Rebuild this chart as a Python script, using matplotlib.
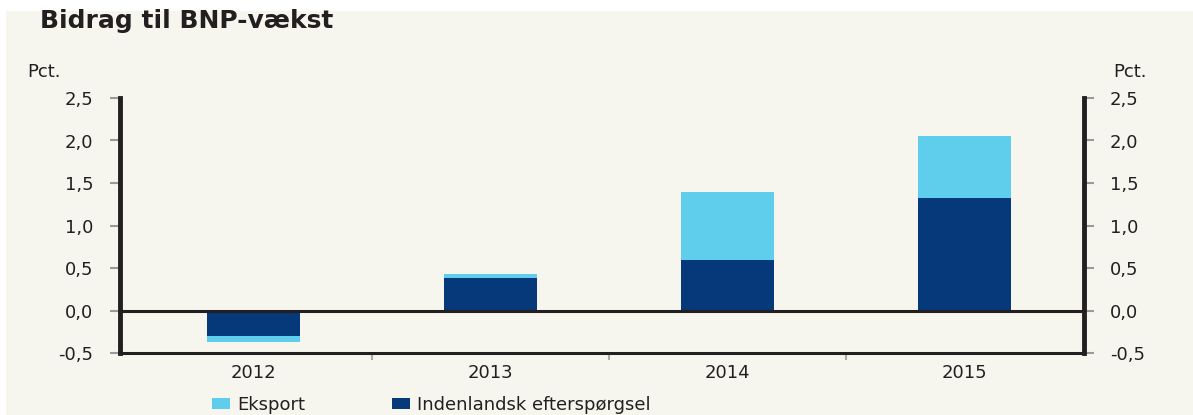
import matplotlib.pyplot as plt
from matplotlib.patches import Rectangle

years = ["2012", "2013", "2014", "2015"]
domestic = [-0.30, 0.38, 0.60, 1.32]
export = [-0.07, 0.05, 0.80, 0.73]
yticks = [-0.5, 0.0, 0.5, 1.0, 1.5, 2.0, 2.5]
ytick_labels = ["-0,5", "0,0", "0,5", "1,0", "1,5", "2,0", "2,5"]

light_blue = "#5fcdec"
navy = "#05397a"
cream = "#f6f6ee"
ink = "#231f20"

plt.rcParams['font.family'] = ['DejaVu Sans']

fig = plt.figure(figsize=(11.93, 4.15), dpi=100, facecolor="white")
bg = Rectangle((6 / 1193, 0), 1, (415 - 11) / 415, transform=fig.transFigure,
               facecolor=cream, edgecolor="none", zorder=-10)
fig.patches.append(bg)

ax = fig.add_axes([120 / 1193, (415 - 353) / 415, (1083.5 - 120) / 1193, (353 - 98) / 415])
ax.set_facecolor(cream)

xs = range(len(years))
ax.bar(xs, domestic, width=0.39, color=navy, label="Indenlandsk efterspørgsel", zorder=2)
ax.bar(xs, export, width=0.39, bottom=domestic, color=light_blue, label="Eksport", zorder=2)
ax.axhline(0, color=ink, lw=2.2, zorder=3)

ax.set_xlim(-0.563, 3.502)
ax.set_ylim(-0.5, 2.5)
ax.set_yticks(yticks)
ax.set_yticklabels(ytick_labels)
ax.set_xticks(list(xs))
ax.set_xticklabels(years)
ax.set_xticks([0.5, 1.5, 2.5], minor=True)
ax.tick_params(axis="x", which="major", length=0, pad=8, labelsize=13, labelcolor=ink)
ax.tick_params(axis="x", which="minor", length=5, width=1.5, color="#aaaaaa")
ax.tick_params(axis="y", length=7, width=1.5, color="#9a9a9a", labelsize=13, labelcolor=ink,
               pad=12, left=True, right=True, labelleft=True, labelright=True)

ax.spines["top"].set_visible(False)
for side in ["left", "right"]:
    ax.spines[side].set_linewidth(3.5)
    ax.spines[side].set_color(ink)
ax.spines["bottom"].set_linewidth(2.2)
ax.spines["bottom"].set_color(ink)

fig.text(40 / 1193, 1 - 21 / 415, "Bidrag til BNP-vækst", fontsize=18, fontweight="bold",
         color=ink, va="center", ha="left")
fig.text(27 / 1193, 1 - 72 / 415, "Pct.", fontsize=13, color=ink, va="center", ha="left")
fig.text(1113 / 1193, 1 - 72 / 415, "Pct.", fontsize=13, color=ink, va="center", ha="left")

handles, labels = ax.get_legend_handles_labels()
leg = fig.legend(handles[::-1], labels[::-1], loc="center left",
                 bbox_to_anchor=(203 / 1193, 1 - 405 / 415), ncol=2, frameon=False,
                 fontsize=13, handlelength=1.0, handleheight=0.6, handletextpad=0.4,
                 columnspacing=4.8, borderpad=0)
for t in leg.get_texts():
    t.set_color(ink)

fig.savefig("out.png", dpi=100, facecolor=fig.get_facecolor())
